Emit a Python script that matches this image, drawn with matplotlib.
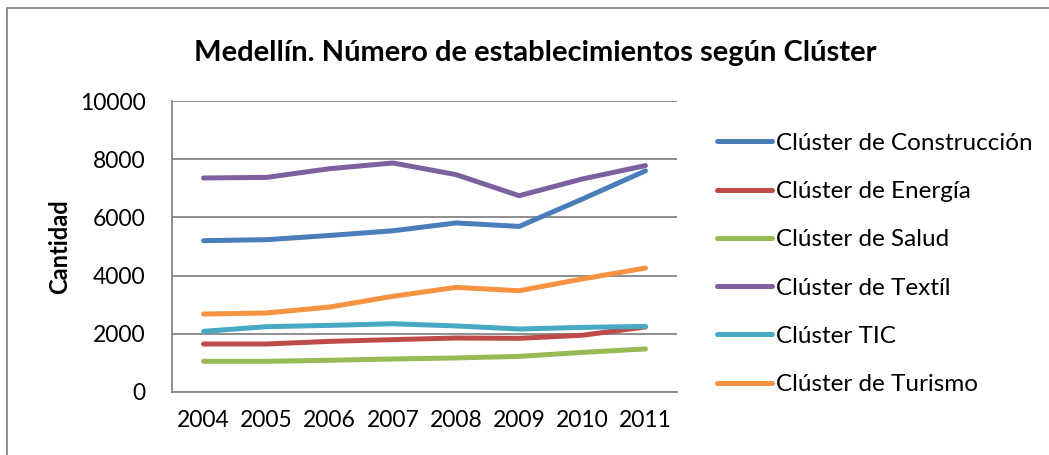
import matplotlib
matplotlib.use("Agg")
import matplotlib.pyplot as plt
from matplotlib.patches import Rectangle

plt.rcParams["font.family"] = ["Lato", "DejaVu Sans"]

# Datos
years = ["2004", "2005", "2006", "2007", "2008", "2009", "2010", "2011"]
construccion = [5200, 5235, 5380, 5540, 5810, 5690, 6630, 7600]
energia = [1650, 1650, 1740, 1800, 1855, 1845, 1950, 2235]
salud = [1055, 1055, 1090, 1135, 1170, 1225, 1360, 1480]
textil = [7355, 7375, 7675, 7870, 7470, 6745, 7320, 7780]
tic = [2085, 2245, 2290, 2345, 2270, 2165, 2220, 2255]
turismo = [2680, 2715, 2920, 3290, 3595, 3480, 3885, 4260]

series = [
    ("Clúster de Construcción", construccion, "#4A7EBB"),
    ("Clúster de Energía", energia, "#BE4B48"),
    ("Clúster de Salud", salud, "#98B954"),
    ("Clúster de Textíl", textil, "#7D60A0"),
    ("Clúster TIC", tic, "#46AAC5"),
    ("Clúster de Turismo", turismo, "#F69240"),
]

W, H = 1049, 455
fig = plt.figure(figsize=(W / 100, H / 100), dpi=100)
ax = fig.add_axes([172 / W, 1 - 392 / H, (677 - 172) / W, (392 - 101) / H])

x = list(range(len(years)))
for label, vals, color in series:
    ax.plot(x, vals, color=color, lw=3.6, label=label, solid_capstyle="round")

ax.set_xlim(-0.5, len(years) - 0.5)
ax.set_ylim(0, 10000)
ax.set_yticks(range(0, 10001, 2000))
ax.set_xticks(x)
ax.set_xticklabels(years)
ax.tick_params(axis="both", length=0, labelsize=16.5)
ax.tick_params(axis="x", pad=13)
ax.tick_params(axis="y", pad=19)
ax.grid(axis="y", color="#868686", lw=1.3)
ax.set_axisbelow(True)
for side in ["top", "right"]:
    ax.spines[side].set_visible(False)
for side in ["left", "bottom"]:
    ax.spines[side].set_color("#868686")
    ax.spines[side].set_linewidth(1.3)

ax.set_ylabel("Cantidad", fontsize=17, fontweight="bold", labelpad=6)

fig.text(535 / W, 1 - 53 / H, "Medellín. Número de establecimientos según Clúster",
         ha="center", va="center", fontsize=21, fontweight="bold")

ax.legend(loc="center left", bbox_to_anchor=(717 / W, 1 - 264 / H),
          bbox_transform=fig.transFigure, frameon=False, fontsize=17.5,
          borderaxespad=0, borderpad=0,
          handlelength=2.25, handletextpad=0.16, labelspacing=1.12)

# borde del gráfico
fig.patches.append(Rectangle((7 / W, -0.1), 1.2, 1 - 8 / H + 0.1,
                             transform=fig.transFigure, fill=False,
                             edgecolor="#868686", lw=1.3))

fig.savefig("out.png", dpi=100)
